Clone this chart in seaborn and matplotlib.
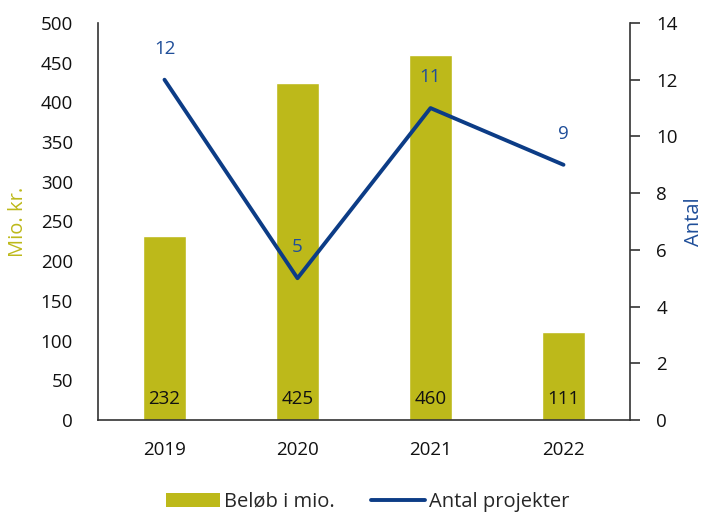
import matplotlib
matplotlib.use("Agg")
import matplotlib.pyplot as plt
import seaborn as sns
import pandas as pd
from matplotlib.patches import Patch
from matplotlib.lines import Line2D

# data
years = ["2019", "2020", "2021", "2022"]
belob = [232, 425, 460, 111]
antal = [12, 5, 11, 9]

bar_color = "#BDB91A"
line_color = "#0C3C86"
label_blue = "#1F4E99"
fs = 13.5

sns.set_theme(style="white")
plt.rcParams["font.family"] = ["Open Sans", "DejaVu Sans"]

df = pd.DataFrame({"year": years, "belob": belob, "antal": antal})

fig = plt.figure(figsize=(7.07, 5.13), dpi=100)
ax = fig.add_axes([98 / 707, 1 - 420 / 513, 532 / 707, 397 / 513])

sns.barplot(data=df, x="year", y="belob", color=bar_color, width=0.32,
            saturation=1, ax=ax)
ax.set_ylim(0, 500)
ax.set_yticks(range(0, 501, 50))
ax.set_xlim(-0.5, 3.5)
ax.set_xlabel("")
ax.set_ylabel("Mio. kr.", color=bar_color, fontsize=fs + 1)
ax.yaxis.set_label_coords(-0.131, 0.5)
ax.tick_params(axis="y", labelsize=fs, length=0, pad=18, labelcolor="#111111")
ax.tick_params(axis="x", labelsize=fs, length=0, pad=15, labelcolor="#111111")
for s in ["top", "right"]:
    ax.spines[s].set_visible(False)
for s in ["left", "bottom"]:
    ax.spines[s].set_color("#333333")
    ax.spines[s].set_linewidth(1.2)

for i, v in enumerate(belob):
    ax.text(i, 27, str(v), ha="center", va="center", fontsize=fs, color="#111111")

ax2 = ax.twinx()
sns.lineplot(data=df, x="year", y="antal", color=line_color, linewidth=2.8,
             ax=ax2, sort=False)
ax2.set_ylim(0, 14)
ax2.set_yticks(range(0, 15, 2))
ax2.set_ylabel("Antal", color=label_blue, fontsize=fs + 1)
ax2.yaxis.set_label_coords(1.102, 0.5)
ax2.tick_params(axis="y", labelsize=fs, length=7, width=1.2, color="#333333",
                direction="out", pad=12, labelcolor="#111111")
for s in ["top", "left", "bottom"]:
    ax2.spines[s].set_visible(False)
ax2.spines["right"].set_color("#333333")
ax2.spines["right"].set_linewidth(1.2)

for i, v in enumerate(antal):
    ax2.text(i, v + 1.1, str(v), ha="center", va="center", fontsize=fs,
             color=label_blue)

handles = [Patch(facecolor=bar_color, edgecolor="none"),
           Line2D([0], [0], color=line_color, linewidth=2.8)]
fig.legend(handles, ["Beløb i mio.", "Antal projekter"], loc="center",
           bbox_to_anchor=(0.52, 1 - 502 / 513), ncol=2, frameon=False,
           fontsize=fs + 1, handlelength=2.7, handletextpad=0.2,
           columnspacing=1.8)

fig.savefig("out.png", dpi=100)
